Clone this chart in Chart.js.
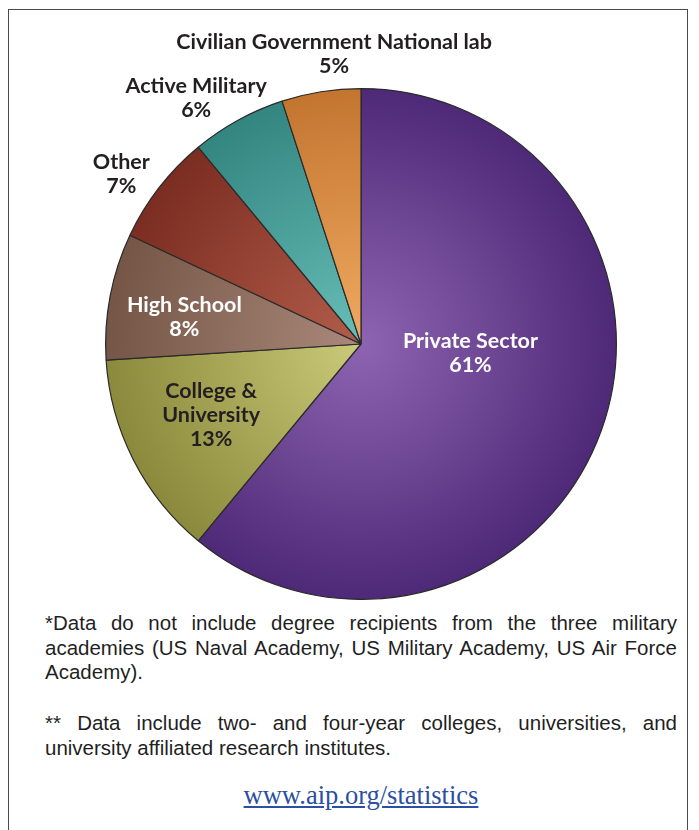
<!DOCTYPE html>
<html>
<head>
<meta charset="utf-8">
<script src="https://cdn.jsdelivr.net/npm/chart.js@4/dist/chart.umd.min.js"></script>
<style>
    html, body { margin: 0; padding: 0; background: #fff; }
    #page { position: relative; width: 699px; height: 830px; overflow: hidden; }
    #frame { position: absolute; left: 8px; top: 9px; width: 680px; height: 840px; border: 1.5px solid #4a4a4a; box-sizing: border-box; }
    #chartBox { position: absolute; left: 0; top: 0; width: 699px; height: 600px; }
    .note { position: absolute; left: 45px; width: 632px; font-family: "Liberation Sans", Arial, sans-serif; font-size: 20.5px; line-height: 24.5px; color: #1f1f1f; }
    .note div { white-space: nowrap; text-align: justify; text-align-last: justify; }
    .note div.last { text-align: left; text-align-last: left; }
    #note1 { top: 611px; }
    #note2 { top: 711px; }
    #link { position: absolute; left: 0; width: 722px; top: 780px; text-align: center; font-family: "Liberation Serif", "Times New Roman", serif; font-size: 26.5px; color: #2b4fa3; text-decoration: underline; }
</style>
</head>
<body>
<div id="page">
    <div id="frame"></div>
    <div id="chartBox"><canvas id="pieChart"></canvas></div>
    <div class="note" id="note1">
        <div>*Data do not include degree recipients from the three military</div>
        <div>academies (US Naval Academy, US Military Academy, US Air Force</div>
        <div class="last">Academy).</div>
    </div>
    <div class="note" id="note2">
        <div>** Data include two- and four-year colleges, universities, and</div>
        <div class="last">university affiliated research institutes.</div>
    </div>
    <div id="link">www.aip.org/statistics</div>
</div>
<script>
// values, clockwise from 12 o'clock
const sectors = ['Private Sector', 'College & University', 'High School', 'Other', 'Active Military', 'Civilian Government National lab'];
const shares = [61, 13, 8, 7, 6, 5];

// slice shading: light near the centre, dark at the rim
const innerColors = ['#8d64b2', '#caca7a', '#aa897c', '#b35d4b', '#68beb8', '#f1aa62'];
const outerColors = ['#4e2977', '#8b893b', '#755545', '#7b2d21', '#338580', '#c37530'];

// label text split in lines, colour, and where to put it (radius factor, angle shift in degrees)
const labelLines = [
    ['Private Sector', '61%'],
    ['College &', 'University', '13%'],
    ['High School', '8%'],
    ['Other', '7%'],
    ['Active Military', '6%'],
    ['Civilian Government National lab', '5%']
];
const labelColors = ['#ffffff', '#231f20', '#ffffff', '#231f20', '#231f20', '#231f20'];
const labelRadius = [0.43, 0.65, 0.70, 1.15, 1.16, 1.14];
const labelShift = [-15, 1.5, -2, -2.5, -5, 3.7];

function sliceGradient(context) {
    const chart = context.chart;
    const area = chart.chartArea;
    const i = context.dataIndex;
    if (!area) return innerColors[i];
    const cx = (area.left + area.right) / 2;
    const cy = (area.top + area.bottom) / 2;
    const r = Math.min(area.width, area.height) / 2;
    const g = chart.ctx.createRadialGradient(cx, cy, 0, cx, cy, r);
    g.addColorStop(0, innerColors[i]);
    g.addColorStop(1, outerColors[i]);
    return g;
}

const sliceLabels = {
    id: 'sliceLabels',
    afterDatasetsDraw(chart) {
        const ctx = chart.ctx;
        const arcs = chart.getDatasetMeta(0).data;
        ctx.save();
        ctx.font = 'bold 21.5px Lato, "Open Sans", sans-serif';
        ctx.textAlign = 'center';
        ctx.textBaseline = 'middle';
        arcs.forEach((arc, i) => {
            const p = arc.getProps(['x', 'y', 'startAngle', 'endAngle', 'outerRadius'], true);
            const mid = (p.startAngle + p.endAngle) / 2 + labelShift[i] * Math.PI / 180;
            const rr = p.outerRadius * labelRadius[i];
            const x = p.x + Math.cos(mid) * rr;
            const y = p.y + Math.sin(mid) * rr;
            const lines = labelLines[i];
            const lh = 24;
            ctx.fillStyle = labelColors[i];
            lines.forEach((t, k) => {
                ctx.fillText(t, x, y + (k - (lines.length - 1) / 2) * lh);
            });
        });
        ctx.restore();
    }
};

new Chart(document.getElementById('pieChart'), {
    type: 'pie',
    data: {
        labels: sectors,
        datasets: [{
            data: shares,
            backgroundColor: sliceGradient,
            borderColor: '#2a2a2a',
            borderWidth: 1.2
        }]
    },
    options: {
        responsive: true,
        maintainAspectRatio: false,
        animation: false,
        layout: { padding: { left: 105, right: 82, top: 88, bottom: 0 } },
        plugins: {
            legend: { display: false },
            tooltip: { enabled: false }
        }
    },
    plugins: [sliceLabels]
});
</script>
</body>
</html>
